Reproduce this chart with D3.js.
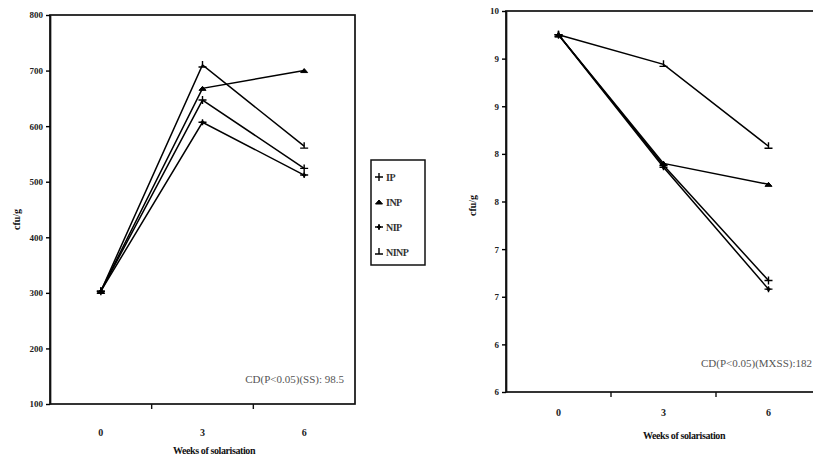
<!DOCTYPE html>
<html>
<head>
<meta charset="utf-8">
<script src="https://cdn.jsdelivr.net/npm/d3@7"></script>
<style>
  body { margin: 0; background: #fff; }
  text { font-family: "Liberation Serif", "DejaVu Serif", serif; }
</style>
</head>
<body>
<svg id="chart" width="813" height="461"></svg>
<script>
const weeks = [0, 3, 6];
const seriesNames = ['IP', 'INP', 'NIP', 'NINP'];

// left panel
const leftIP = [303, 647, 524];
const leftINP = [303, 668, 700];
const leftNIP = [303, 607, 512];
const leftNINP = [303, 710, 564];
const leftTicks = [100, 200, 300, 400, 500, 600, 700, 800];

// right panel
const rightIP = [9.75, 8.38, 7.17];
const rightINP = [9.75, 8.40, 8.18];
const rightNIP = [9.75, 8.36, 7.08];
const rightNINP = [9.75, 9.44, 8.58];
const rightTicks = [6, 6.5, 7, 7.5, 8, 8.5, 9, 9.5, 10];
const rightTickLabels = ['6', '6', '7', '7', '8', '8', '9', '9', '10'];

const leftNote = 'CD(P<0.05)(SS): 98.5';
const rightNote = 'CD(P<0.05)(MXSS):182';
const xTitle = 'Weeks of solarisation';
const yTitle = 'cfu/g';

const svg = d3.select('#chart');

// marker shapes, one per series
function marker(g, name, cx, cy) {
  const m = g.append('g').attr('transform', `translate(${cx},${cy})`)
    .attr('stroke', '#000').attr('stroke-width', 1.4).attr('fill', '#000');
  if (name === 'IP') {
    m.append('path').attr('d', 'M-4,0H4M0,-4V4');
  } else if (name === 'INP') {
    m.append('path').attr('d', 'M-3.5,2L0,-2L3.5,2Z').attr('stroke-width', 1);
  } else if (name === 'NIP') {
    m.append('path').attr('d', 'M-4,0H4M0,-3V3');
    m.append('path').attr('d', 'M-2,0L0,-2L2,0L0,2Z').attr('stroke-width', 0.8);
  } else {
    m.append('path').attr('d', 'M-4,2H4M0,2V-4');
  }
}

function panel(opts) {
  const { left, right, top, bottom, yDomain, ticks, tickLabels, series, note, noteX, noteY } = opts;
  const g = svg.append('g');

  const x = d3.scaleBand().domain(weeks).range([left, right]);
  const y = d3.scaleLinear().domain(yDomain).range([bottom, top]);

  // frame
  g.append('rect')
    .attr('x', left).attr('y', top)
    .attr('width', right - left).attr('height', bottom - top)
    .attr('fill', 'none').attr('stroke', '#111').attr('stroke-width', 1.7);

  // y axis
  const yAxis = d3.axisLeft(y).tickValues(ticks).tickSize(4).tickSizeOuter(0)
    .tickFormat((d, i) => tickLabels ? tickLabels[i] : d);
  const ya = g.append('g').attr('transform', `translate(${left},0)`).call(yAxis);
  ya.select('.domain').attr('stroke-width', 1.7).attr('stroke', '#111');
  ya.selectAll('.tick line').attr('stroke-width', 1.4);
  ya.selectAll('.tick text')
    .attr('font-size', 9).attr('font-weight', 'bold').attr('fill', '#222')
    .attr('font-family', '"Liberation Serif", serif');

  // x axis: ticks sit between categories, labels at category centres
  const bounds = weeks.slice(1).map(w => x(w));
  const xa = g.append('g').attr('transform', `translate(0,${bottom})`);
  xa.selectAll('line').data(bounds).join('line')
    .attr('x1', d => d).attr('x2', d => d).attr('y1', 0).attr('y2', 5)
    .attr('stroke', '#111').attr('stroke-width', 1.4);
  xa.selectAll('text').data(weeks).join('text')
    .attr('x', d => x(d) + x.bandwidth() / 2).attr('y', opts.labelDy)
    .attr('text-anchor', 'middle')
    .attr('font-size', 10).attr('font-weight', 'bold').attr('fill', '#222')
    .text(d => d);

  g.append('text')
    .attr('x', opts.titleX).attr('y', bottom + opts.titleDy)
    .attr('text-anchor', 'middle').attr('font-size', 10).attr('font-weight', 'bold')
    .attr('fill', '#111').attr('letter-spacing', -0.4)
    .text(xTitle);

  g.append('text')
    .attr('transform', `translate(${left - 30},${(top + bottom) / 2 + opts.yTitleShift}) rotate(-90)`)
    .attr('text-anchor', 'middle').attr('font-size', 10).attr('font-weight', 'bold')
    .attr('fill', '#111')
    .text(yTitle);

  const line = d3.line()
    .x((d, i) => x(weeks[i]) + x.bandwidth() / 2)
    .y(d => y(d));

  series.forEach((s, k) => {
    g.append('path').datum(s)
      .attr('fill', 'none').attr('stroke', '#000').attr('stroke-width', 1.5)
      .attr('d', line);
    s.forEach((v, i) => marker(g, seriesNames[k], x(weeks[i]) + x.bandwidth() / 2, y(v)));
  });

  g.append('text')
    .attr('x', noteX).attr('y', noteY).attr('text-anchor', 'end')
    .attr('font-size', 11).attr('fill', '#555')
    .text(note);
}

panel({
  left: 50, right: 355, top: 15, bottom: 404,
  yDomain: [100, 800], ticks: leftTicks, tickLabels: null,
  series: [leftIP, leftINP, leftNIP, leftNINP],
  note: leftNote, noteX: 344, noteY: 383,
  labelDy: 32, titleDy: 50, titleX: 214, yTitleShift: 10
});

panel({
  left: 506, right: 821, top: 11, bottom: 392,
  yDomain: [6, 10], ticks: rightTicks, tickLabels: rightTickLabels,
  series: [rightIP, rightINP, rightNIP, rightNINP],
  note: rightNote, noteX: 812, noteY: 367,
  labelDy: 24, titleDy: 47, titleX: 684, yTitleShift: 4
});

// legend
const legend = svg.append('g').attr('transform', 'translate(371,160)');
legend.append('rect').attr('width', 54).attr('height', 105)
  .attr('fill', '#fff').attr('stroke', '#111').attr('stroke-width', 1.5);
seriesNames.forEach((name, i) => {
  const yy = 17 + i * 25;
  marker(legend, name, 8, yy);
  legend.append('text').attr('x', 15).attr('y', yy + 4)
    .attr('font-size', 10).attr('font-weight', 'bold').attr('fill', '#333')
    .attr('letter-spacing', -0.5)
    .text(name);
});
</script>
</body>
</html>
